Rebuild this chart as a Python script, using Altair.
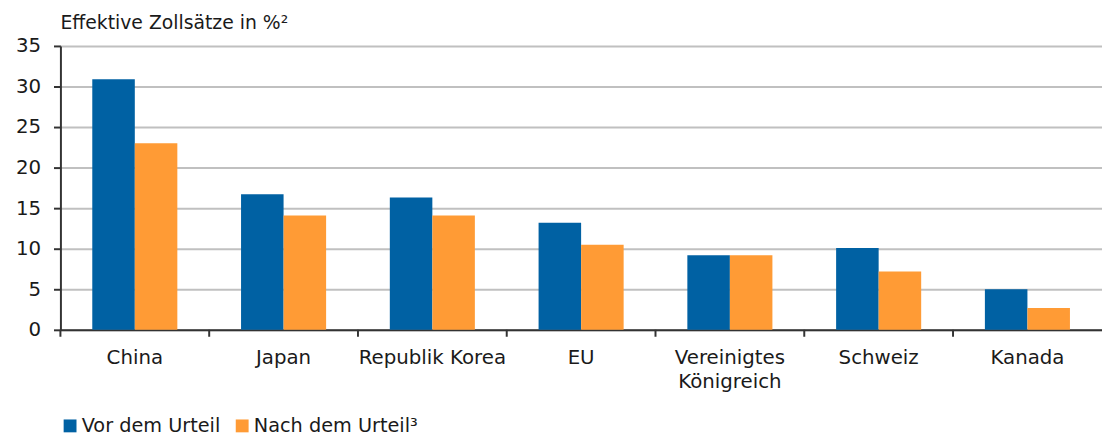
import altair as alt
import pandas as pd

categories = ["China", "Japan", "Republik Korea", "EU", "Vereinigtes\nKönigreich", "Schweiz", "Kanada"]
vor = [30.9, 16.7, 16.3, 13.2, 9.2, 10.1, 5.0]
nach = [23.0, 14.1, 14.1, 10.5, 9.2, 7.2, 2.7]
series = ["Vor dem Urteil", "Nach dem Urteil³"]
y_ticks = [0, 5, 10, 15, 20, 25, 30, 35]

rows = []
for c, v, n in zip(categories, vor, nach):
    rows.append({"Land": c, "Serie": series[0], "Wert": v})
    rows.append({"Land": c, "Serie": series[1], "Wert": n})
df = pd.DataFrame(rows)
tick_df = pd.DataFrame({"Land": categories})

FONT = "DejaVu Sans"
FS = 20
TXT = "#1a1a1a"
BLUE = "#0061A3"
ORANGE = "#FF9B35"
AX = "#333333"
STEP = 150.4
W = 1040
H = 287

xscale = alt.Scale(domain=categories, range=[0, STEP * len(categories)], paddingInner=0, paddingOuter=0)

bars = alt.Chart(df).mark_bar().encode(
    x=alt.X("Land:N", sort=categories, scale=xscale,
            axis=alt.Axis(title=None, ticks=False, grid=False, labelAngle=0,
                          labelFont=FONT, labelFontSize=FS, labelColor=TXT,
                          labelPadding=18, labelLineHeight=24,
                          labelExpr="split(datum.label, '\\n')",
                          domainColor=AX, domainWidth=2)),
    xOffset=alt.XOffset("Serie:N", sort=series,
                        scale=alt.Scale(domain=series, paddingInner=0, paddingOuter=0.749)),
    y=alt.Y("Wert:Q", scale=alt.Scale(domain=[0, 35], nice=False),
            axis=alt.Axis(title=None, values=y_ticks, tickSize=7, tickColor=AX, tickWidth=2,
                          domainColor=AX, domainWidth=2, labelFont=FONT, labelFontSize=FS,
                          labelColor=TXT, labelPadding=13,
                          grid=True, gridColor="#c0c0c0", gridWidth=2)),
    color=alt.Color("Serie:N", sort=series,
                    scale=alt.Scale(domain=series, range=[BLUE, ORANGE]),
                    legend=alt.Legend(title=None, orient="none", legendX=0, legendY=374,
                                      direction="horizontal", symbolType="square",
                                      symbolSize=169, symbolStrokeWidth=0,
                                      labelFont=FONT, labelFontSize=19.5, labelColor=TXT,
                                      labelLimit=400, labelOffset=2, columnPadding=12,
                                      padding=0)),
)

ticks = alt.Chart(tick_df).mark_rule(color=AX, strokeWidth=2).encode(
    x=alt.X("Land:N", sort=categories, scale=xscale, bandPosition=0),
    y=alt.value(H),
    y2=alt.value(H + 7),
)

chart = alt.layer(bars, ticks).properties(
    width=W, height=H,
    padding={"left": 7, "top": 4, "right": 0, "bottom": 0},
    title=alt.TitleParams("Effektive Zollsätze in %²", anchor="start", frame="group",
                          font=FONT, fontSize=19, fontWeight="normal", color=TXT,
                          baseline="alphabetic", offset=-12),
).configure_view(stroke=None)

chart.save("out.html", embed_options={"renderer": "svg", "actions": False})
